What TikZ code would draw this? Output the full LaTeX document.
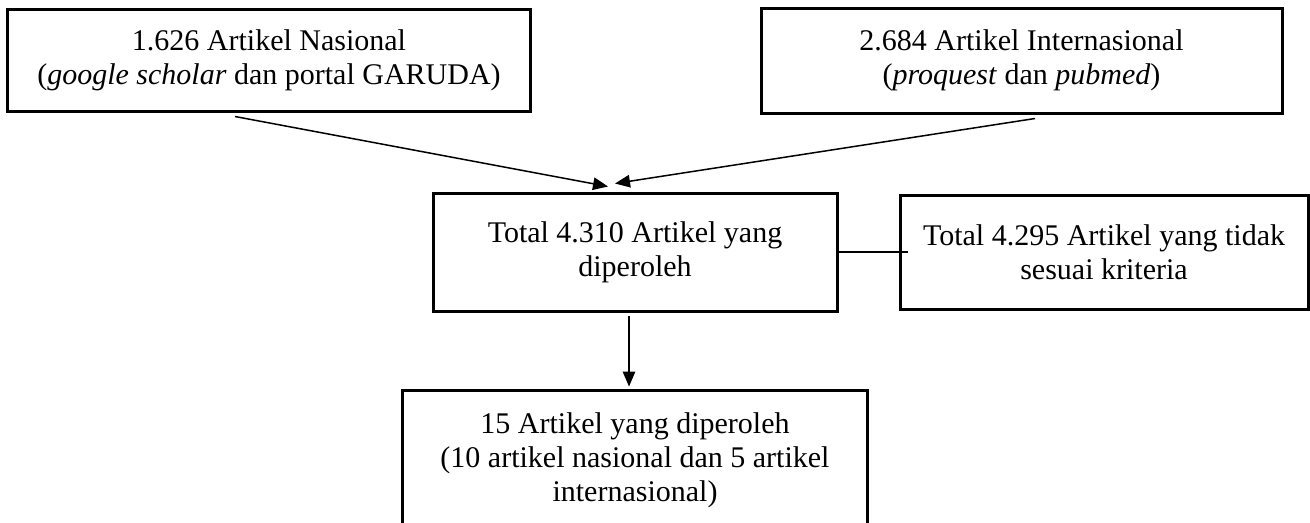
\documentclass[tikz,border=0pt]{standalone}
\usepackage{fontspec}
\setmainfont{Liberation Serif}
\usetikzlibrary{positioning,arrows.meta}

\begin{document}
\begin{tikzpicture}[x=0.4pt,y=-0.4pt,
    box/.style={draw, line width=1.2pt, align=center, inner sep=0pt,
      font=\fontsize{12}{13.6}\selectfont},
    arr/.style={line width=0.6pt, -{Triangle[length=6pt,width=5pt]}},
    link/.style={line width=0.6pt}]
  \useasboundingbox (0,0) rectangle (1310,522);
  % sources
  \node[box, minimum width=208.8pt, minimum height=40.8pt] (nas) at (269,60)
    {1.626 Artikel Nasional\\(\textit{google scholar} dan portal GARUDA)};
  \node[box, minimum width=208.4pt, minimum height=42pt] (int) at (1021.5,60.5)
    {2.684 Artikel Internasional\\(\textit{proquest} dan \textit{pubmed})};
  % screening
  \node[box, minimum width=161.6pt, minimum height=47.2pt] (total) at (635,252)
    {Total 4.310 Artikel yang\\diperoleh};
  \node[box, minimum width=163.2pt, minimum height=45.6pt, right=24pt of total] (excl)
    {Total 4.295 Artikel yang tidak\\sesuai kriteria};
  \node[box, minimum width=186pt, minimum height=56pt, below=30.4pt of total] (final)
    {15 Artikel yang diperoleh\\(10 artikel nasional dan 5 artikel\\internasional)};
  % connectors
  \draw[arr] ([xshift=-13.6pt,yshift=-1.6pt]nas.south) -- ([xshift=-10.8pt,yshift=2pt]total.north);
  \draw[arr] ([xshift=5.4pt,yshift=-1.6pt]int.south) -- ([xshift=-8pt,yshift=3.2pt]total.north);
  \draw[link] (total.east) -- ([xshift=3.6pt]excl.west |- total.east);
  \draw[arr] ([xshift=-2.4pt,yshift=-1.2pt]total.south) -- ([xshift=-2.4pt,yshift=0.8pt]final.north -| total.south);
\end{tikzpicture}
\end{document}
